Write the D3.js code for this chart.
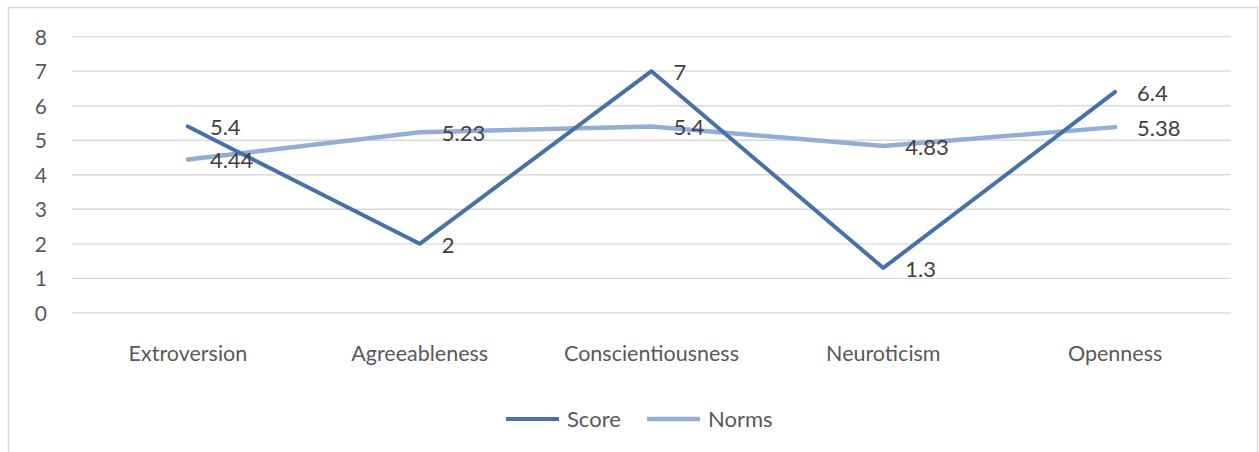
<!DOCTYPE html>
<html>
<head>
<meta charset="utf-8">
<script src="https://cdn.jsdelivr.net/npm/d3@7"></script>
<style>
  html, body { margin: 0; padding: 0; background: #fff; }
  svg { display: block; font-family: Lato, "Open Sans", sans-serif; }
</style>
</head>
<body>
<svg id="chart" width="1259" height="452"></svg>
<script>
// Personality profile: respondent's score vs. population norms
const traits = ["Extroversion", "Agreeableness", "Conscientiousness", "Neuroticism", "Openness"];
const scoreValues = [5.4, 2, 7, 1.3, 6.4];
const normValues = [4.44, 5.23, 5.4, 4.83, 5.38];
const yTicks = [0, 1, 2, 3, 4, 5, 6, 7, 8];

const seriesList = [
  { name: "Score", values: scoreValues, color: "#4672A9", width: 4 },
  { name: "Norms", values: normValues, color: "#94ADD8", width: 4.5 }
];

const svg = d3.select("#chart");

// Chart frame
svg.append("rect")
  .attr("x", 8.5).attr("y", 7.5)
  .attr("width", 1249).attr("height", 460)
  .attr("fill", "#fff")
  .attr("stroke", "#d9d9d9").attr("stroke-width", 1.5);

const plot = { left: 72, right: 1231, top: 36.7, bottom: 312.8 };

const x = d3.scaleBand().domain(traits).range([plot.left, plot.right]);
const y = d3.scaleLinear().domain([0, 8]).range([plot.bottom, plot.top]);

// Horizontal gridlines
svg.append("g")
  .selectAll("line")
  .data(yTicks)
  .join("line")
  .attr("x1", plot.left).attr("x2", plot.right)
  .attr("y1", d => y(d)).attr("y2", d => y(d))
  .attr("stroke", "#d9d9d9").attr("stroke-width", 1.3);

// Y axis labels
const yAxis = d3.axisLeft(y).tickValues(yTicks).tickSize(0).tickPadding(0);
const gy = svg.append("g").attr("transform", `translate(${plot.left - 25},0)`).call(yAxis);
gy.select(".domain").remove();
gy.selectAll("text")
  .attr("fill", "#595959")
  .attr("dy", "0.36em")
  .style("font-size", "21px")
  .style("font-family", "Lato, sans-serif");

// X axis labels
const xAxis = d3.axisBottom(x).tickSize(0).tickPadding(0);
const gx = svg.append("g").attr("transform", `translate(0,${plot.bottom + 33})`).call(xAxis);
gx.select(".domain").remove();
gx.selectAll("text")
  .attr("fill", "#595959")
  .style("font-size", "21.5px")
  .style("font-family", "Lato, sans-serif");

const line = d3.line()
  .x((d, i) => x(traits[i]) + x.bandwidth() / 2)
  .y(d => y(d));

// Series lines (Norms drawn first so Score sits on top)
svg.append("g")
  .selectAll("path")
  .data(seriesList.slice().reverse())
  .join("path")
  .attr("d", s => line(s.values))
  .attr("fill", "none")
  .attr("stroke", s => s.color)
  .attr("stroke-width", s => s.width)
  .attr("stroke-linejoin", "round")
  .attr("stroke-linecap", "round");

// Data labels to the right of each point
seriesList.forEach(s => {
  svg.append("g")
    .selectAll("text")
    .data(s.values)
    .join("text")
    .attr("x", (d, i) => x(traits[i]) + x.bandwidth() / 2 + 22)
    .attr("y", d => y(d) + 1)
    .attr("dy", "0.36em")
    .attr("fill", "#404040")
    .style("font-size", "22px")
    .text(d => d);
});

// Legend
const legend = svg.append("g").attr("transform", "translate(506,419)");
const items = legend.selectAll("g")
  .data(seriesList)
  .join("g")
  .attr("transform", (d, i) => `translate(${i * 141},0)`);
items.append("line")
  .attr("x1", 0).attr("x2", 53).attr("y1", 0).attr("y2", 0)
  .attr("stroke", d => d.color).attr("stroke-width", d => d.width);
items.append("text")
  .attr("x", 61).attr("dy", "0.36em")
  .attr("fill", "#595959")
  .style("font-size", "22px")
  .text(d => d.name);
</script>
</body>
</html>
